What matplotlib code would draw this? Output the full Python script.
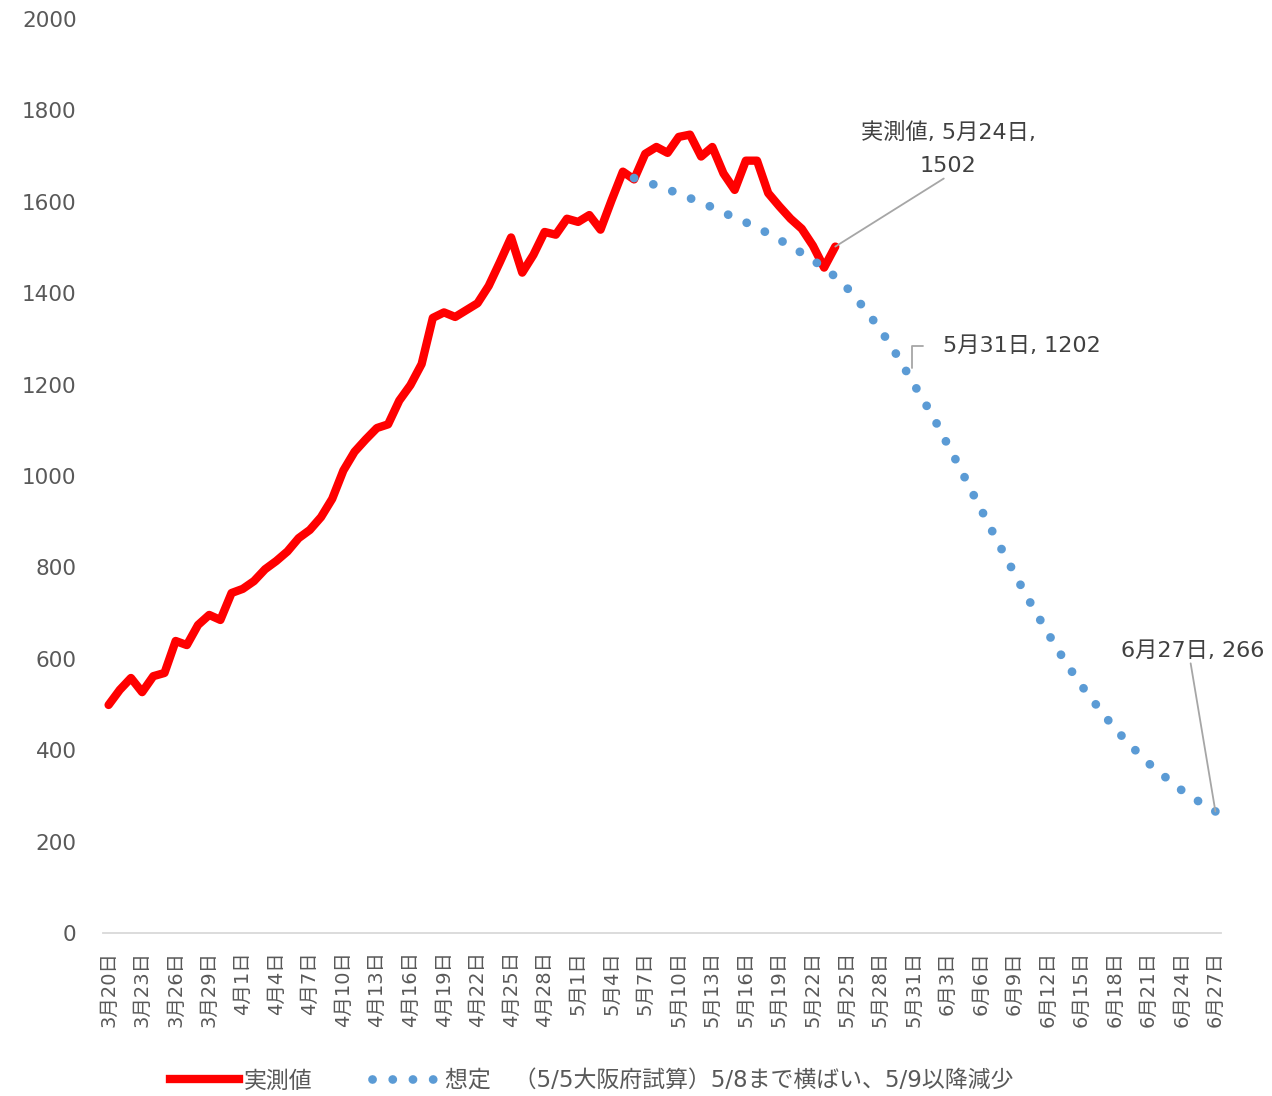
import datetime as dt
import matplotlib
matplotlib.use("Agg")
import matplotlib.pyplot as plt
from matplotlib.lines import Line2D

plt.rcParams['font.family'] = ['DejaVu Sans', 'Noto Sans CJK JP']

# ---------------------------
# data
# ---------------------------
start_date = dt.date(2020, 3, 20)
n_days = 100  # 3/20 .. 6/27

# 実測値 3/20 .. 5/24
actual = [499, 532, 558, 527, 562, 569, 639, 630, 674, 696,
          685, 744, 753, 770, 796, 814, 835, 864, 882, 910,
          950, 1012, 1053, 1080, 1105, 1113, 1165, 1199, 1245, 1346,
          1358, 1348, 1363, 1378, 1416, 1468, 1522, 1445, 1484, 1534,
          1528, 1563, 1556, 1571, 1539, 1604, 1666, 1649, 1705, 1720,
          1707, 1742, 1747, 1699, 1720, 1662, 1626, 1690, 1690, 1619,
          1590, 1563, 1541, 1504, 1456, 1502]

# 想定 5/6 .. 6/27
plan_start = 47
plan = [1652, 1644, 1636, 1627, 1618, 1608, 1598, 1588, 1576, 1566,
        1555, 1543, 1531, 1517, 1503, 1488, 1472, 1456, 1436, 1413,
        1385, 1354, 1321, 1285, 1244, 1202, 1161, 1118, 1071, 1025,
        976, 929, 881, 834, 788, 742, 699, 657, 616, 578,
        542, 510, 478, 448, 421, 396, 372, 351, 332, 312,
        296, 280, 266]

dates = [start_date + dt.timedelta(days=i) for i in range(n_days)]
labels = [f"{d.month}月{d.day}日" for d in dates]

legend_actual = "実測値"
legend_plan = "想定　（5/5大阪府試算）5/8まで横ばい、5/9以降減少"

# ---------------------------
# plot
# ---------------------------
fig = plt.figure(figsize=(12.72, 10.96), dpi=100)
ax = fig.add_axes([103/1272, 1 - 933/1096, (1221-103)/1272, (933-19)/1096])

x_act = list(range(len(actual)))
x_plan = list(range(plan_start, plan_start + len(plan)))

dot_style = (0, (0.01, 2.3))

ax.plot(x_act, actual, color='#ff0000', lw=6, solid_joinstyle='round',
        solid_capstyle='round', zorder=2)
ax.plot(x_plan, plan, color='#5b9bd5', lw=6.3, linestyle=dot_style,
        dash_capstyle='round', zorder=3)

ax.set_xlim(-0.5, n_days - 0.5)
ax.set_ylim(0, 2000)
ax.set_yticks(range(0, 2001, 200))
ax.set_xticks(range(0, n_days, 3))
ax.set_xticklabels([labels[i] for i in range(0, n_days, 3)], rotation=90)

for s in ['top', 'right', 'left']:
    ax.spines[s].set_visible(False)
ax.spines['bottom'].set_color('#d9d9d9')
ax.spines['bottom'].set_linewidth(1.3)
ax.tick_params(axis='both', length=0, colors='#595959')
ax.tick_params(axis='y', labelsize=15.5, pad=19)
ax.tick_params(axis='x', labelsize=14, pad=13)

# data labels
ann_kw = dict(fontsize=16, color='#404040')
line_kw = dict(arrowstyle='-', color='#a6a6a6', lw=1.3, shrinkA=0, shrinkB=0)

i_last = len(actual) - 1
ax.annotate(f"{legend_actual}, {dates[i_last].month}月{dates[i_last].day}日,\n{actual[i_last]}",
            xy=(i_last, actual[i_last]), xytext=(75.1, 1716),
            ha='center', va='center', linespacing=1.8,
            arrowprops=dict(**line_kw, relpos=(0.5, 0.0)), **ann_kw)

i31 = 72
ax.annotate(f"{dates[i31].month}月{dates[i31].day}日, {plan[i31 - plan_start]}",
            xy=(i31 - 0.1, plan[i31 - plan_start] + 10), xytext=(74.6, 1284),
            ha='left', va='center',
            arrowprops=dict(arrowstyle='-', color='#a6a6a6', lw=1.3,
                            shrinkA=12, shrinkB=8,
                            connectionstyle='angle,angleA=0,angleB=90,rad=0'),
            **ann_kw)

i27 = n_days - 1
ax.annotate(f"{dates[i27].month}月{dates[i27].day}日, {plan[-1]}",
            xy=(i27, plan[-1]), xytext=(97.0, 618),
            ha='center', va='center',
            arrowprops=dict(**line_kw, relpos=(0.48, 0.0)), **ann_kw)

# legend
handles = [Line2D([], [], color='#ff0000', lw=6),
           Line2D([], [], color='#5b9bd5', lw=6.3, linestyle=dot_style,
                  dash_capstyle='round')]
leg = fig.legend(handles, [legend_actual, legend_plan], loc='center',
                 bbox_to_anchor=(592/1272, 1 - 1081/1096), ncol=2, frameon=False,
                 fontsize=16.5, handlelength=3.0, handletextpad=0.2,
                 columnspacing=2.6)
for t in leg.get_texts():
    t.set_color('#595959')

fig.savefig("out.png", dpi=100, facecolor='white')
